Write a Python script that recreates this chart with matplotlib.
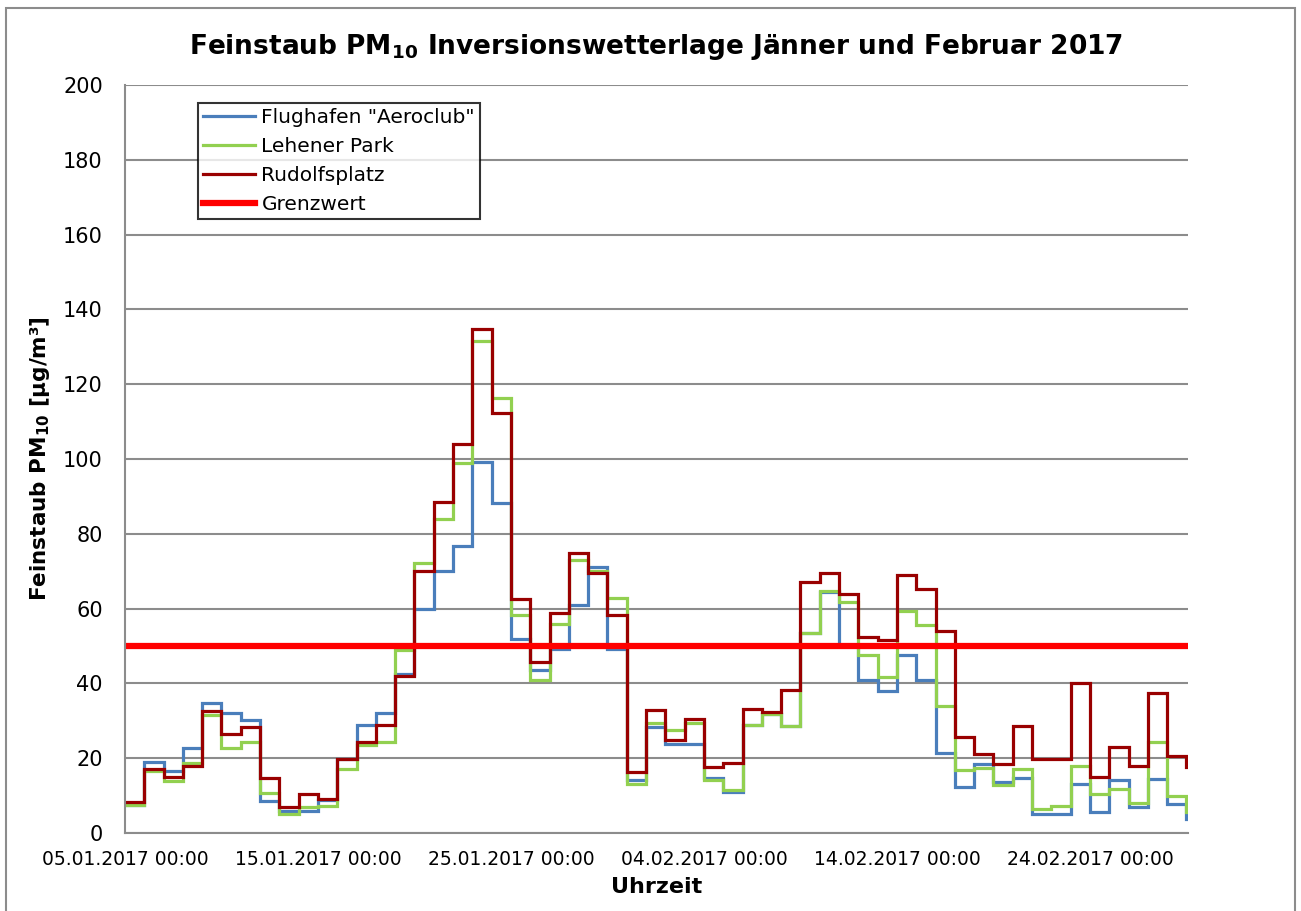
import matplotlib
matplotlib.use("Agg")
import matplotlib.pyplot as plt
from matplotlib.patches import Rectangle
import numpy as np

# Tagesmittelwerte PM10 ab 05.01.2017 (ein Wert pro Tag)
flughafen = [7.5, 19.1, 16.6, 22.6, 34.8, 32.1, 30.3, 8.6, 6.0, 5.9,
             8.8, 19.8, 29.0, 32.2, 42.4, 59.8, 70.0, 76.8, 99.1, 88.3,
             51.9, 43.6, 49.3, 61.0, 71.2, 49.3, 14.2, 28.4, 23.7, 23.9,
             14.8, 11.0, 29.0, 31.7, 28.6, 53.5, 64.5, 50.0, 40.9, 38.0,
             47.6, 40.9, 21.3, 12.4, 18.4, 13.7, 14.6, 5.2, 5.2, 13.2,
             5.7, 14.3, 7.0, 14.4, 7.8, 3.7]
lehener_park = [7.4, 16.6, 13.9, 18.6, 31.5, 22.8, 24.3, 10.6, 5.1, 7.0,
                7.2, 17.2, 23.5, 24.3, 48.9, 72.1, 84.0, 98.8, 131.6, 116.2,
                58.3, 40.9, 55.9, 73.1, 70.0, 62.9, 13.0, 29.3, 27.5, 29.4,
                14.2, 11.6, 28.9, 31.7, 28.6, 53.5, 64.8, 61.8, 47.6, 41.8,
                59.4, 55.7, 34.0, 16.8, 17.4, 12.8, 17.1, 6.4, 7.2, 18.0,
                10.4, 11.8, 7.9, 24.2, 9.9, 5.7]
rudolfsplatz = [8.2, 17.2, 14.9, 17.9, 32.6, 26.4, 28.4, 14.6, 7.0, 10.3,
                9.2, 19.8, 24.2, 29.0, 42.0, 70.0, 88.4, 104.0, 134.8, 112.4,
                62.6, 45.8, 58.9, 75.0, 69.6, 58.2, 16.4, 32.9, 24.9, 30.5,
                17.7, 18.8, 33.2, 32.4, 38.2, 67.2, 69.4, 63.9, 52.5, 51.6,
                69.0, 65.2, 54.0, 25.7, 21.1, 18.4, 28.6, 19.8, 19.8, 40.0,
                15.0, 23.0, 18.0, 37.3, 20.6, 17.7]
grenzwert = 50

tick_days = [0, 10, 20, 30, 40, 50]
tick_labels = ["05.01.2017 00:00", "15.01.2017 00:00", "25.01.2017 00:00",
               "04.02.2017 00:00", "14.02.2017 00:00", "24.02.2017 00:00"]

c_blue = "#4a7ebb"
c_green = "#92d050"
c_dred = "#990000"
c_red = "#ff0000"
c_grid = "#8c8c8c"

fig = plt.figure(figsize=(13.01, 9.11), dpi=100)
ax = fig.add_axes([125 / 1301, 78 / 911, 1063 / 1301, 748 / 911])

# Rahmen um das Diagramm
fig.patches.append(Rectangle((6 / 1301, -0.01), 1289 / 1301, 903 / 911 + 0.01,
                             transform=fig.transFigure, fill=False,
                             edgecolor="#8c8c8c", linewidth=1.5))

edges = np.arange(len(flughafen) + 1)
ax.stairs(flughafen, edges, color=c_blue, linewidth=2.3, label='Flughafen "Aeroclub"', baseline=None)
ax.stairs(lehener_park, edges, color=c_green, linewidth=2.3, label="Lehener Park", baseline=None)
ax.stairs(rudolfsplatz, edges, color=c_dred, linewidth=2.3, label="Rudolfsplatz", baseline=None)
ax.axhline(grenzwert, color=c_red, linewidth=4.5, label="Grenzwert")

ax.set_xlim(0, 55.08)
ax.set_ylim(0, 200)
ax.set_yticks(np.arange(0, 201, 20))
ax.set_xticks(tick_days)
ax.set_xticklabels(tick_labels)
ax.tick_params(axis="both", length=0)
ax.tick_params(axis="y", labelsize=15, pad=16)
ax.tick_params(axis="x", labelsize=13.5, pad=12)
ax.grid(axis="y", color=c_grid, linewidth=1.5)
ax.set_axisbelow(True)
for side in ["top", "right"]:
    ax.spines[side].set_visible(False)
for side in ["left", "bottom"]:
    ax.spines[side].set_color(c_grid)
    ax.spines[side].set_linewidth(1.5)

ax.set_title("Feinstaub PM$_{\\mathbf{10}}$ Inversionswetterlage Jänner und Februar 2017",
             fontsize=19, fontweight="bold", pad=22)
ax.set_ylabel("Feinstaub PM$_{\\mathbf{10}}$ [µg/m³]", fontsize=15.5, fontweight="bold", labelpad=8)
ax.set_xlabel("Uhrzeit", fontsize=16, fontweight="bold", labelpad=6)

leg = ax.legend(loc="upper left", bbox_to_anchor=(73 / 1063, 730 / 748),
                fontsize=14.5, frameon=True, fancybox=False, handlelength=2.6,
                handletextpad=0.3, borderpad=0.25, labelspacing=0.5, borderaxespad=0)
leg.get_frame().set_edgecolor("black")
leg.get_frame().set_linewidth(1.5)

fig.savefig("out.png", dpi=100)
